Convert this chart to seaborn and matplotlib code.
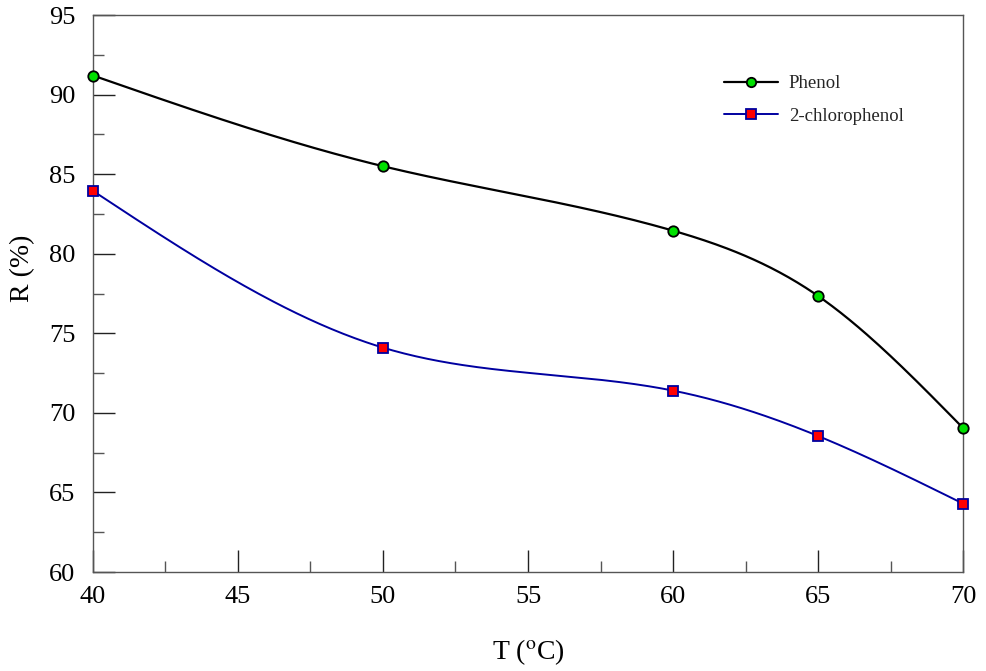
import numpy as np
import pandas as pd
import matplotlib
matplotlib.use("Agg")
import matplotlib.pyplot as plt
import seaborn as sns
from matplotlib.ticker import MultipleLocator

temps = [40, 50, 60, 65, 70]
phenol = [91.2, 85.5, 81.45, 77.35, 69.05]
chlorophenol = [83.95, 74.1, 71.4, 68.55, 64.3]
series_names = ["Phenol", "2-chlorophenol"]

sns.set_theme(style="white")
plt.rcParams['font.family'] = ['Liberation Serif', 'DejaVu Serif']
plt.rcParams['mathtext.fontset'] = 'stix'

def natural_spline(x, y, n=300):
    x = np.asarray(x, float); y = np.asarray(y, float)
    k = len(x); h = np.diff(x)
    A = np.zeros((k, k)); b = np.zeros(k)
    A[0, 0] = 1; A[-1, -1] = 1
    for i in range(1, k - 1):
        A[i, i - 1] = h[i - 1]; A[i, i] = 2 * (h[i - 1] + h[i]); A[i, i + 1] = h[i]
        b[i] = 6 * ((y[i + 1] - y[i]) / h[i] - (y[i] - y[i - 1]) / h[i - 1])
    M = np.linalg.solve(A, b)
    xs = np.linspace(x[0], x[-1], n)
    idx = np.clip(np.searchsorted(x, xs) - 1, 0, k - 2)
    x0 = x[idx]; x1 = x[idx + 1]; hh = x1 - x0
    t0 = x1 - xs; t1 = xs - x0
    ys = (M[idx] * t0**3 / (6 * hh) + M[idx + 1] * t1**3 / (6 * hh)
          + (y[idx] / hh - M[idx] * hh / 6) * t0 + (y[idx + 1] / hh - M[idx + 1] * hh / 6) * t1)
    return xs, ys

fig = plt.figure(figsize=(9.86, 6.71), dpi=100)
ax = fig.add_axes([0.0943, 0.1475, 0.8824, 0.8301])

styles = [
    dict(color="black", marker="o", mfc="#00e000", mec="black", lw=1.6, ms=7.5, mew=1.3),
    dict(color="#0000a0", marker="s", mfc="#ff0000", mec="#0000a0", lw=1.4, ms=7.5, mew=1.3),
]
for name, vals, st in zip(series_names, [phenol, chlorophenol], styles):
    xs, ys = natural_spline(temps, vals)
    sns.lineplot(x=xs, y=ys, ax=ax, color=st["color"], lw=st["lw"], legend=False)
    ax.plot(temps, vals, linestyle="none", marker=st["marker"], mfc=st["mfc"],
            mec=st["mec"], ms=st["ms"], mew=st["mew"], clip_on=False, zorder=5)
    ax.plot([], [], color=st["color"], lw=st["lw"], marker=st["marker"], mfc=st["mfc"],
            mec=st["mec"], ms=st["ms"] * 0.9, mew=st["mew"], label=name)

ax.set_xlim(40, 70)
ax.set_ylim(60, 95)
ax.xaxis.set_major_locator(MultipleLocator(5))
ax.xaxis.set_minor_locator(MultipleLocator(2.5))
ax.yaxis.set_major_locator(MultipleLocator(5))
ax.yaxis.set_minor_locator(MultipleLocator(2.5))
for axis in (ax.xaxis, ax.yaxis):
    axis.set_tick_params(which="both", direction="in", labelsize=19, labelcolor="black")
    axis.set_tick_params(which="major", length=16, width=1.0, color="#222222")
    axis.set_tick_params(which="minor", length=8, width=1.0, color="#555555")
ax.xaxis.set_tick_params(which="both", bottom=True, top=False, pad=10)
ax.yaxis.set_tick_params(which="both", left=True, right=False, pad=12.5)
for s in ax.spines.values():
    s.set_color("#555555"); s.set_linewidth(1.0); s.set_visible(True)

ax.set_xlabel(r"T ($^{\mathrm{o}}$C)", fontsize=20, labelpad=21, color="black")
ax.set_ylabel("R (%)", fontsize=20, color="black")
ax.yaxis.set_label_coords(-0.066, 0.545)

leg = ax.legend(loc="upper left", bbox_to_anchor=(0.706, 0.922), frameon=False,
                fontsize=13.5, handlelength=2.9, handletextpad=0.55, labelspacing=0.8)

fig.savefig("out.png", dpi=100)
